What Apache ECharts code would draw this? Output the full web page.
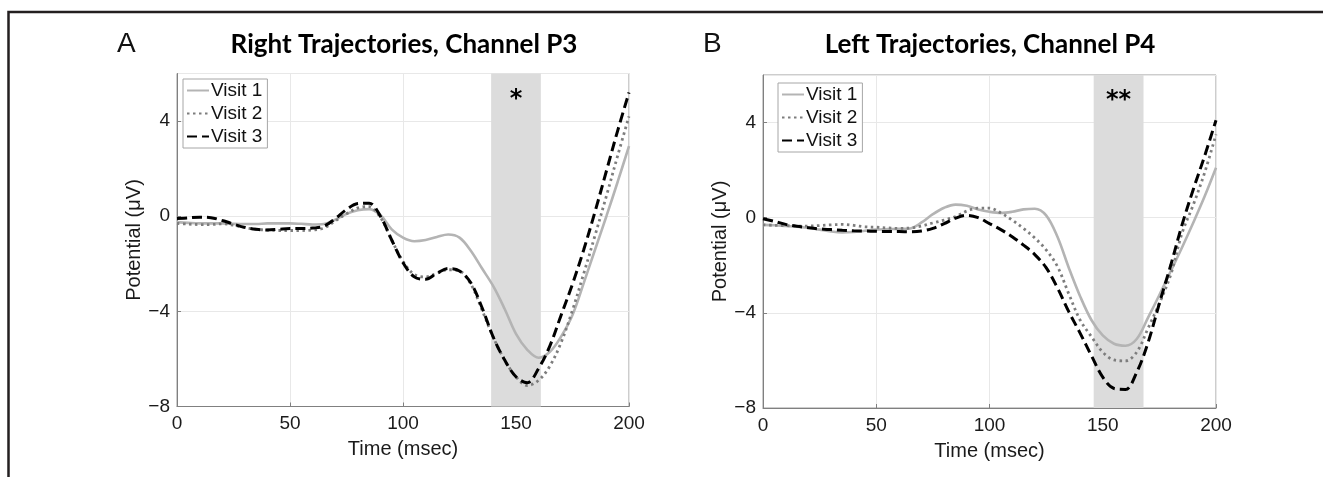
<!DOCTYPE html>
<html>
<head>
<meta charset="utf-8">
<script src="https://cdn.jsdelivr.net/npm/echarts@6/dist/echarts.min.js"></script>
<style>
html,body{margin:0;padding:0;background:#fff;}
#c{width:1323px;height:477px;}
</style>
</head>
<body>
<div id="c"></div>
<script>
// ---- data ----
var times = [0,5,10,15,20,25,30,35,40,45,50,55,60,65,70,75,80,85,90,95,100,105,110,115,120,125,130,135,140,145,150,155,160,165,170,175,180,185,190,195,200];

// Panel A: Right trajectories, channel P3
var leftVisit1 = [-0.25,-0.28,-0.3,-0.3,-0.3,-0.32,-0.33,-0.33,-0.3,-0.3,-0.3,-0.32,-0.35,-0.33,-0.15,0.1,0.25,0.3,0.05,-0.55,-0.9,-1.05,-1.0,-0.87,-0.77,-0.9,-1.45,-2.2,-2.95,-3.9,-4.95,-5.62,-5.95,-5.7,-5.05,-4.15,-2.8,-1.4,0.0,1.45,2.95];
var leftVisit2 = [-0.3,-0.33,-0.35,-0.35,-0.32,-0.38,-0.48,-0.55,-0.58,-0.6,-0.6,-0.6,-0.58,-0.5,-0.2,0.1,0.35,0.4,-0.05,-1.0,-1.9,-2.45,-2.55,-2.4,-2.25,-2.3,-2.85,-3.95,-5.1,-6.05,-6.75,-7.12,-6.9,-6.3,-5.3,-3.95,-2.4,-0.8,0.85,2.55,4.2];
var leftVisit3 = [-0.1,-0.07,-0.04,-0.06,-0.18,-0.33,-0.47,-0.55,-0.58,-0.55,-0.52,-0.52,-0.5,-0.42,-0.1,0.28,0.53,0.55,0.0,-1.0,-1.95,-2.55,-2.65,-2.4,-2.2,-2.3,-2.8,-3.85,-5.1,-6.05,-6.75,-7.0,-6.4,-5.45,-4.15,-2.85,-1.4,0.2,1.9,3.6,5.2];

// Panel B: Left trajectories, channel P4
var rightVisit1 = [-0.3,-0.32,-0.35,-0.38,-0.42,-0.5,-0.58,-0.62,-0.6,-0.55,-0.5,-0.48,-0.47,-0.45,-0.2,0.15,0.42,0.55,0.5,0.35,0.25,0.2,0.25,0.35,0.38,0.1,-0.8,-2.1,-3.3,-4.3,-4.95,-5.3,-5.38,-5.1,-4.2,-3.25,-2.25,-1.25,-0.2,0.9,2.1];
var rightVisit2 = [-0.3,-0.32,-0.33,-0.35,-0.35,-0.33,-0.3,-0.28,-0.32,-0.38,-0.4,-0.43,-0.45,-0.43,-0.35,-0.22,-0.1,0.05,0.28,0.4,0.4,0.2,-0.1,-0.45,-0.85,-1.35,-2.05,-3.2,-4.3,-5.0,-5.65,-5.98,-6.02,-5.65,-4.65,-3.6,-2.4,-0.65,0.55,1.9,3.5];
var rightVisit3 = [-0.04,-0.15,-0.28,-0.36,-0.42,-0.47,-0.5,-0.53,-0.55,-0.56,-0.57,-0.58,-0.58,-0.59,-0.56,-0.45,-0.25,-0.02,0.1,0.0,-0.25,-0.5,-0.8,-1.15,-1.55,-2.1,-2.95,-3.95,-4.85,-5.8,-6.7,-7.18,-7.22,-6.5,-5.25,-3.6,-2.0,-0.3,1.2,2.6,4.1];

var seriesNames = ['Visit 1','Visit 2','Visit 3'];
var panelTitles = ['Right Trajectories, Channel P3','Left Trajectories, Channel P4'];
var panelLetters = ['A','B'];
var shadeLeft = [139, 161];
var shadeRight = [146, 168];
var starLeft = {x: 150, y: 4.9, text: '*'};
var starRight = {x: 157, y: 4.9, text: '**'};
var xTicks = {min: 0, max: 200, interval: 50};
var yTicks = {min: -8, max: 6, interval: 4};
var xLabel = 'Time (msec)';
var yLabel = 'Potential (\u03bcV)';

// ---- chart ----
function zip(xs, ys){ return xs.map(function(x,i){ return [x, ys[i]]; }); }
var FONT = '"Liberation Sans", Arial, Helvetica, sans-serif';
var styles = [
  {color:'#b4b4b4', width:2.6, type:'solid'},
  {color:'#7d7d7d', width:2.8, type:[2.5,3.5]},
  {color:'#000000', width:3.0, type:[10,5]}
];

function lineSeries(gi, name, data, st){
  return {
    type:'line', name:name, xAxisIndex:gi, yAxisIndex:gi,
    data: zip(times, data), smooth:0.35, showSymbol:false, symbol:'none',
    lineStyle:{color:st.color, width:st.width, type:st.type, cap:'butt'},
    itemStyle:{color:st.color}, z:3, animation:false, silent:true
  };
}
function shadeSeries(gi, shade, star){
  return {
    type:'line', name:'shade'+gi, xAxisIndex:gi, yAxisIndex:gi, data:[], z:1, silent:true,
    markArea:{silent:true, itemStyle:{color:'#dcdcdc', opacity:1},
      data:[[{xAxis:shade[0]},{xAxis:shade[1]}]]},
    markPoint:{silent:true, symbol:'circle', symbolSize:0,
      data:[{coord:[star.x, star.y]}],
      label:{show:true, position:'inside', formatter:star.text, color:'#000',
        fontSize:24, fontWeight:'bold', fontFamily:'"DejaVu Sans", sans-serif'}}
  };
}
function xAxisOf(gi){
  return {
    gridIndex:gi, type:'value', min:xTicks.min, max:xTicks.max, interval:xTicks.interval,
    name:xLabel, nameLocation:'middle', nameGap:33,
    nameTextStyle:{fontSize:20, color:'#1a1a1a', fontFamily:FONT},
    axisLine:{show:true, onZero:false, lineStyle:{color:'#808080', width:1}},
    axisTick:{show:true, inside:true, length:4, lineStyle:{color:'#808080'}},
    axisLabel:{fontSize:19, color:'#1a1a1a', fontFamily:FONT, margin:8},
    splitLine:{show:true, lineStyle:{color:'#e8e8e8', width:1}}
  };
}
function yAxisOf(gi){
  return {
    gridIndex:gi, type:'value', min:yTicks.min, max:yTicks.max, interval:yTicks.interval,
    name:yLabel, nameLocation:'middle', nameGap:27,
    nameTextStyle:{fontSize:20, color:'#1a1a1a', fontFamily:FONT},
    axisLine:{show:true, onZero:false, lineStyle:{color:'#808080', width:1}},
    axisTick:{show:true, inside:true, length:4, lineStyle:{color:'#808080'}},
    axisLabel:{fontSize:19, color:'#1a1a1a', fontFamily:FONT, margin:7, showMaxLabel:false,
      formatter:function(v){ return v < 0 ? '\u2212' + Math.abs(v) : String(v); }},
    splitLine:{show:true, lineStyle:{color:'#e8e8e8', width:1}}
  };
}
function legendOf(left, top){
  return {
    left:left, top:top, orient:'vertical', data:seriesNames,
    backgroundColor:'#fff', borderColor:'#a6a6a6', borderWidth:1,
    padding:[2,5,2,3], itemGap:4, itemWidth:22, itemHeight:14,
    textStyle:{fontSize:19, color:'#111', fontFamily:FONT, padding:[0,0,0,-3]},
    itemStyle:{opacity:0},
    selectedMode:false
  };
}

var chart = echarts.init(document.getElementById('c'), null, {renderer:'canvas'});
chart.setOption({
  animation:false,
  backgroundColor:'#ffffff',
  title:[
    {text:panelTitles[0], left:399, top:27, textAlign:'center',
      textStyle:{fontSize:26, fontWeight:'bold', color:'#000', fontFamily:'Lato, "Open Sans", sans-serif'}},
    {text:panelTitles[1], left:985, top:27, textAlign:'center',
      textStyle:{fontSize:26, fontWeight:'bold', color:'#000', fontFamily:'Lato, "Open Sans", sans-serif'}},
    {text:panelLetters[0], left:112, top:25,
      textStyle:{fontSize:28, fontWeight:'normal', color:'#111', fontFamily:FONT}},
    {text:panelLetters[1], left:698, top:25,
      textStyle:{fontSize:28, fontWeight:'normal', color:'#111', fontFamily:FONT}}
  ],
  legend:[legendOf(183, 79), legendOf(778, 83)],
  grid:[
    {left:177, top:73.5, width:452, height:333, show:true, borderColor:'#9a9a9a', borderWidth:1, backgroundColor:'transparent'},
    {left:763, top:75, width:453, height:333, show:true, borderColor:'#9a9a9a', borderWidth:1, backgroundColor:'transparent'}
  ],
  xAxis:[xAxisOf(0), xAxisOf(1)],
  yAxis:[yAxisOf(0), yAxisOf(1)],
  graphic:[
    {type:'polyline', silent:true, shape:{points:[[8.5,477],[8.5,12],[1330,12]]},
      style:{stroke:'#231f20', lineWidth:2.5, fill:null}, z:100}
  ],
  series:[
    shadeSeries(0, shadeLeft, starLeft),
    shadeSeries(1, shadeRight, starRight),
    lineSeries(0, seriesNames[0], leftVisit1, styles[0]),
    lineSeries(0, seriesNames[1], leftVisit2, styles[1]),
    lineSeries(0, seriesNames[2], leftVisit3, styles[2]),
    lineSeries(1, seriesNames[0], rightVisit1, styles[0]),
    lineSeries(1, seriesNames[1], rightVisit2, styles[1]),
    lineSeries(1, seriesNames[2], rightVisit3, styles[2])
  ]
});
</script>
</body>
</html>
